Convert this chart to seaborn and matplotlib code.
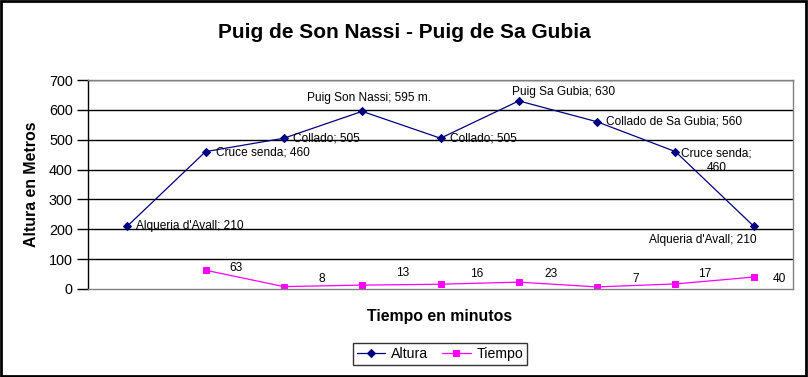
import matplotlib.pyplot as plt
import matplotlib.patches as patches
import seaborn as sns
import pandas as pd
import numpy as np

# Data
puntos = ["Alqueria d'Avall", "Cruce senda", "Collado", "Puig Son Nassi",
          "Collado", "Puig Sa Gubia", "Collado de Sa Gubia", "Cruce senda",
          "Alqueria d'Avall"]
altura = [210, 460, 505, 595, 505, 630, 560, 460, 210]
tiempo = [np.nan, 63, 8, 13, 16, 23, 7, 17, 40]
etiquetas_altura = ["Alqueria d'Avall; 210", "Cruce senda; 460", "Collado; 505",
                    "Puig Son Nassi; 595 m.", "Collado; 505", "Puig Sa Gubia; 630",
                    "Collado de Sa Gubia; 560", "Cruce senda;\n460",
                    "Alqueria d'Avall; 210"]

# Label placement (pixel offsets from each point, alignment)
off_altura = [(9, 0, "left"), (10, -1, "left"), (9, 0, "left"), (7, 13, "center"),
              (9, 0, "left"), (-7, 9, "left"), (9, 0, "left"), (41, -9, "center"),
              (-51, -14, "center")]
off_tiempo = [None, (30, 2), (38, 8), (41, 12), (36, 10), (32, 8), (39, 8),
              (29, 10), (26, -2)]

df = pd.DataFrame({"x": range(len(puntos)), "Altura": altura, "Tiempo": tiempo})

sns.set_style("white")
plt.rcParams["font.family"] = ["Liberation Sans", "DejaVu Sans"]
plt.rcParams["text.color"] = "black"
plt.rcParams["ytick.color"] = "black"
plt.rcParams["ytick.labelcolor"] = "black"

fig = plt.figure(figsize=(8.08, 3.77), dpi=100)
ax = fig.add_axes([88 / 808, 1 - 289 / 377, 705 / 808, 209 / 377])

navy = "#000080"
magenta = "#FF00FF"

sns.lineplot(data=df, x="x", y="Altura", ax=ax, color=navy, lw=0.9,
             marker="D", markersize=4.5, markeredgecolor=navy, label="Altura")
sns.lineplot(data=df.dropna(), x="x", y="Tiempo", ax=ax, color=magenta, lw=0.9,
             marker="s", markersize=5, markeredgecolor=magenta, label="Tiempo")

ax.set_xlim(-0.5, len(puntos) - 0.5)
ax.set_ylim(0, 700)
ax.set_yticks(range(0, 701, 100))
ax.set_xticks([])
ax.set_xlabel("")
ax.set_ylabel("")
for y in range(100, 701, 100):
    ax.axhline(y, color="black", lw=1, zorder=0)

for s in ["top", "right", "bottom"]:
    ax.spines[s].set_color("#808080")
ax.spines["left"].set_color("black")
for s in ax.spines.values():
    s.set_linewidth(1)
ax.tick_params(axis="y", direction="out", length=8, width=1, color="black",
               labelcolor="black", labelsize=10.4, pad=3, left=True)

for i, txt in enumerate(etiquetas_altura):
    dx, dy, ha = off_altura[i]
    ax.annotate(txt, (df["x"][i], altura[i]), xytext=(dx, dy),
                textcoords="offset pixels", ha=ha, va="center",
                fontsize=8.6, multialignment="center", color="black")

for i, v in enumerate(tiempo):
    if off_tiempo[i] is None:
        continue
    dx, dy = off_tiempo[i]
    ax.annotate(f"{int(v)}", (df["x"][i], v), xytext=(dx, dy),
                textcoords="offset pixels", ha="center", va="center",
                fontsize=8.6, color="black")

ax.get_legend().remove()
handles, labels = ax.get_legend_handles_labels()
leg = fig.legend(handles, labels, loc="center", ncol=2,
                 bbox_to_anchor=(440 / 808, 1 - 354 / 377), fontsize=10.2,
                 frameon=True, fancybox=False, edgecolor="black",
                 handlelength=2.0, handletextpad=0.4, columnspacing=1.0,
                 borderpad=0.3)
leg.get_frame().set_linewidth(1)
for t in leg.get_texts():
    t.set_color("black")

fig.text(404 / 808, 1 - 32 / 377, "Puig de Son Nassi - Puig de Sa Gubia",
         ha="center", va="center", fontsize=15, fontweight="bold", color="black")
fig.text(440 / 808, 1 - 316 / 377, "Tiempo en minutos",
         ha="center", va="center", fontsize=11.4, fontweight="bold", color="black")
fig.text(31 / 808, 1 - 184 / 377, "Altura en Metros", rotation=90,
         ha="center", va="center", fontsize=11.4, fontweight="bold", color="black")

fig.patches.append(patches.Rectangle((0.001, 0.002), 0.997, 0.995,
                                     transform=fig.transFigure, fill=False,
                                     edgecolor="black", lw=2))

plt.savefig("out.png", dpi=100)
